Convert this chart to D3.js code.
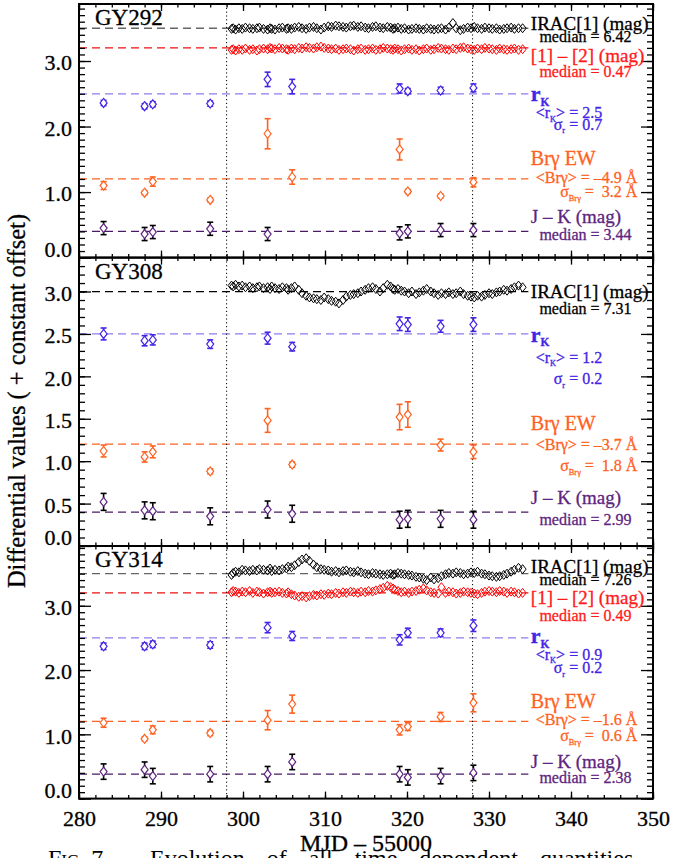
<!DOCTYPE html>
<html>
<head>
<meta charset="utf-8">
<script src="https://cdn.jsdelivr.net/npm/d3@7"></script>
<style>
body { margin: 0; background: #fff; }
svg { display: block; font-family: "Liberation Serif", "Times New Roman", serif; }
svg text { stroke-width: 0.3px; }
</style>
</head>
<body>
<div id="container"></div>
<script>
// IRAC epochs (MJD - 55000), shared by the three sources
const iracMjd = [
    298.6, 298.8, 299.1, 299.5, 299.9, 300.3, 300.8, 301.2, 301.7, 302.0,
    302.5, 303.0, 303.3, 303.5, 303.9, 304.4, 304.8, 305.3, 305.5, 305.9,
    306.3, 306.8, 307.2, 307.7, 308.1, 308.6, 309.0, 309.5, 309.9, 310.4,
    310.8, 311.3, 311.7, 312.2, 312.6, 313.1, 313.5, 314.0, 314.4, 314.9,
    315.3, 315.8, 316.2, 316.7, 317.1, 317.6, 318.0, 318.3, 318.5, 318.9,
    319.3, 319.7, 320.2, 320.6, 321.1, 321.5, 322.0, 322.4, 322.9, 323.3,
    323.8, 324.2, 324.7, 325.1, 325.6, 326.0, 326.5, 326.9, 327.4, 327.8,
    328.2, 328.6, 329.1, 329.5, 330.0, 330.4, 330.9, 331.3, 331.8, 332.2,
    332.7, 333.1, 333.6, 334.1
];

const gy292Irac = [
    3.49, 3.50, 3.48, 3.50, 3.49, 3.51, 3.50, 3.49, 3.50, 3.51,
    3.49, 3.48, 3.50, 3.49, 3.48, 3.50, 3.51, 3.49, 3.50, 3.49,
    3.51, 3.52, 3.50, 3.49, 3.51, 3.52, 3.50, 3.48, 3.51, 3.53,
    3.52, 3.54, 3.53, 3.52, 3.51, 3.53, 3.54, 3.52, 3.53, 3.51,
    3.50, 3.52, 3.53, 3.51, 3.50, 3.52, 3.51, 3.49, 3.50, 3.51,
    3.49, 3.50, 3.48, 3.49, 3.50, 3.49, 3.48, 3.50, 3.49, 3.48,
    3.49, 3.50, 3.48, 3.51, 3.58, 3.50, 3.47, 3.49, 3.51, 3.50,
    3.52, 3.50, 3.49, 3.51, 3.50, 3.49, 3.50, 3.48, 3.49, 3.50,
    3.51, 3.49, 3.50, 3.50
];
const gy292Color = [
    3.17, 3.18, 3.16, 3.18, 3.17, 3.19, 3.17, 3.18, 3.16, 3.18,
    3.19, 3.18, 3.20, 3.19, 3.18, 3.20, 3.19, 3.18, 3.17, 3.19,
    3.18, 3.20, 3.19, 3.21, 3.20, 3.19, 3.21, 3.22, 3.20, 3.19,
    3.18, 3.19, 3.17, 3.18, 3.19, 3.18, 3.16, 3.18, 3.19, 3.17,
    3.18, 3.19, 3.17, 3.18, 3.20, 3.19, 3.18, 3.17, 3.19, 3.18,
    3.16, 3.18, 3.19, 3.17, 3.18, 3.16, 3.18, 3.19, 3.17, 3.18,
    3.20, 3.19, 3.18, 3.17, 3.19, 3.18, 3.20, 3.21, 3.19, 3.18,
    3.17, 3.19, 3.18, 3.20, 3.19, 3.18, 3.17, 3.19, 3.18, 3.17,
    3.18, 3.19, 3.17, 3.18
];
const gy308Irac = [
    3.07, 3.06, 3.08, 3.06, 3.07, 3.05, 3.06, 3.04, 3.05, 3.06,
    3.04, 3.05, 3.03, 3.06, 3.04, 3.03, 3.05, 3.04, 3.02, 3.04,
    3.06, 3.02, 2.98, 2.95, 2.93, 2.92, 2.91, 2.90, 2.93, 2.91,
    2.89, 2.88, 2.86, 2.90, 2.94, 2.96, 2.97, 2.98, 3.00, 3.02,
    3.04, 3.05, 3.03, 3.00, 3.04, 3.08, 3.06, 3.03, 3.02, 3.03,
    3.01, 3.00, 2.98, 3.00, 2.97, 2.99, 3.01, 3.03, 3.00, 2.98,
    2.96, 2.98, 2.97, 2.99, 2.97, 2.98, 3.00, 2.97, 2.95, 2.94,
    2.93, 2.95, 2.94, 2.96, 2.98, 2.97, 2.99, 3.00, 3.02, 3.01,
    3.03, 3.05, 3.07, 3.05
];
const gy314Irac = [
    3.48, 3.51, 3.53, 3.52, 3.56, 3.55, 3.54, 3.56, 3.55, 3.57,
    3.56, 3.55, 3.58, 3.54, 3.56, 3.55, 3.57, 3.58, 3.61, 3.60,
    3.63, 3.68, 3.72, 3.74, 3.70, 3.64, 3.60, 3.57, 3.56, 3.55,
    3.53, 3.54, 3.52, 3.54, 3.55, 3.53, 3.52, 3.54, 3.52, 3.50,
    3.49, 3.51, 3.50, 3.49, 3.48, 3.49, 3.50, 3.48, 3.49, 3.51,
    3.50, 3.49, 3.48, 3.47, 3.45, 3.44, 3.42, 3.40, 3.44, 3.41,
    3.43, 3.46, 3.49, 3.51, 3.50, 3.52, 3.51, 3.49, 3.50, 3.52,
    3.51, 3.53, 3.50, 3.49, 3.47, 3.46, 3.45, 3.46, 3.48, 3.50,
    3.53, 3.56, 3.59, 3.57
];
const gy314Color = [
    3.21, 3.23, 3.22, 3.20, 3.22, 3.21, 3.23, 3.20, 3.22, 3.21,
    3.19, 3.21, 3.22, 3.20, 3.21, 3.22, 3.20, 3.19, 3.21, 3.18,
    3.16, 3.14, 3.15, 3.13, 3.15, 3.17, 3.16, 3.18, 3.17, 3.19,
    3.18, 3.20, 3.19, 3.21, 3.20, 3.22, 3.21, 3.20, 3.22, 3.21,
    3.23, 3.22, 3.24, 3.26, 3.28, 3.31, 3.29, 3.27, 3.25, 3.23,
    3.21, 3.22, 3.20, 3.22, 3.23, 3.25, 3.27, 3.24, 3.21, 3.20,
    3.19, 3.29, 3.20, 3.22, 3.21, 3.19, 3.20, 3.22, 3.21, 3.20,
    3.19, 3.18, 3.20, 3.22, 3.23, 3.22, 3.21, 3.23, 3.22, 3.20,
    3.22, 3.21, 3.19, 3.20
];

// spectroscopic / near-IR epochs
const specMjd = [283.0, 288.0, 289.0, 296.0, 303.0, 306.0, 319.1, 320.1, 324.1, 328.1];

const gy292Rk = [2.36, 2.31, 2.34, 2.35, 2.72, 2.61, 2.58, 2.54, 2.55, 2.59];
const gy292RkErr = [0.04, 0.04, 0.04, 0.04, 0.11, 0.11, 0.07, 0.04, 0.05, 0.06];
const gy292Brg = [1.10, 0.99, 1.16, 0.88, 1.89, 1.23, 1.65, 1.01, 0.94, 1.15];
const gy292BrgErr = [0.06, 0.03, 0.07, 0.03, 0.23, 0.11, 0.16, 0.03, 0.03, 0.07];
const gy292Jk = [0.45, 0.36, 0.39, 0.44, 0.36, null, 0.37, 0.40, 0.42, 0.42];
const gy292JkErr = [0.10, 0.10, 0.10, 0.10, 0.10, null, 0.10, 0.10, 0.10, 0.10];

const gy308Rk = [2.50, 2.42, 2.43, 2.38, 2.45, 2.35, 2.62, 2.61, 2.59, 2.61];
const gy308RkErr = [0.07, 0.06, 0.06, 0.05, 0.07, 0.05, 0.08, 0.08, 0.07, 0.08];
const gy308Brg = [1.12, 1.05, 1.11, 0.88, 1.48, 0.96, 1.52, 1.55, 1.19, 1.11];
const gy308BrgErr = [0.07, 0.06, 0.07, 0.03, 0.14, 0.03, 0.15, 0.15, 0.07, 0.08];
const gy308Jk = [0.52, 0.42, 0.41, 0.35, 0.43, 0.38, 0.31, 0.32, 0.32, 0.31];
const gy308JkErr = [0.10, 0.10, 0.10, 0.10, 0.10, 0.10, 0.10, 0.10, 0.10, 0.10];

const gy314Rk = [2.37, 2.37, 2.40, 2.39, 2.66, 2.53, 2.47, 2.58, 2.58, 2.69];
const gy314RkErr = [0.05, 0.05, 0.05, 0.05, 0.08, 0.07, 0.08, 0.07, 0.06, 0.09];
const gy314Brg = [1.18, 0.93, 1.07, 1.02, 1.22, 1.47, 1.07, 1.12, 1.27, 1.49];
const gy314BrgErr = [0.07, 0.03, 0.06, 0.04, 0.15, 0.14, 0.08, 0.06, 0.07, 0.14];
const gy314Jk = [0.42, 0.45, 0.35, 0.38, 0.38, 0.57, 0.38, 0.33, 0.35, 0.40];
const gy314JkErr = [0.12, 0.12, 0.12, 0.12, 0.12, 0.12, 0.12, 0.12, 0.12, 0.12];

// constant offsets (dashed reference lines): irac, [1]-[2], rK, Brg, J-K
const gy292Levels = [3.5, 3.2, 2.5, 1.2, 0.4];
const gy308Levels = [3.0, null, 2.5, 1.2, 0.4];
const gy314Levels = [3.5, 3.2, 2.5, 1.2, 0.38];

// numbers printed next to each panel
const sourceNames = ["GY292", "GY308", "GY314"];
const iracMedian = ["6.42", "7.31", "7.26"];
const colorMedian = ["0.47", null, "0.49"];
const rkMean = ["2.5", "1.2", "0.9"];
const rkSigma = ["0.7", "0.2", "0.2"];
const brgMean = ["\u20134.9", "\u20133.7", "\u20131.6"];
const brgSigma = ["3.2", "1.8", "0.6"];
const jkMedian = ["3.44", "2.99", "2.38"];

const epochLines = [298, 328];

const width = 673;
const height = 858;

const col = {
    irac: "#000", color: "#ff1a1a", rk: "#4424e6", rkLine: "#8b7df0",
    brg: "#ff6222", jk: "#5e2580", jkLine: "#4a1a66", gray: "#666"
};

// layout of the three stacked panels
const panels = [
    { top: 4, bottom: 257.6, yMax: 3.87, major: 1.0, irac: gy292Irac, color: gy292Color,
      rk: gy292Rk, rkErr: gy292RkErr, brg: gy292Brg, brgErr: gy292BrgErr, jk: gy292Jk, jkErr: gy292JkErr,
      levels: gy292Levels, iracDash: col.gray,
      ly: { irac: 3.47, iracMed: 3.29, color: 2.98, colorMed: 2.76, rk: 2.39, rkMean: 2.13, rkSig: 1.95,
            brg: 1.41, brgMean: 1.14, brgSig: 0.92, jk: 0.53, jkMed: 0.27 } },
    { top: 257.6, bottom: 546, yMax: 3.4, major: 0.5, irac: gy308Irac, color: null,
      rk: gy308Rk, rkErr: gy308RkErr, brg: gy308Brg, brgErr: gy308BrgErr, jk: gy308Jk, jkErr: gy308JkErr,
      levels: gy308Levels, iracDash: "#000",
      ly: { irac: 2.92, iracMed: 2.73, rk: 2.41, rkMean: 2.16, rkSig: 1.91,
            brg: 1.37, brgMean: 1.13, brgSig: 0.88, jk: 0.49, jkMed: 0.25 } },
    { top: 546, bottom: 798.6, yMax: 3.93, major: 1.0, irac: gy314Irac, color: gy314Color,
      rk: gy314Rk, rkErr: gy314RkErr, brg: gy314Brg, brgErr: gy314BrgErr, jk: gy314Jk, jkErr: gy314JkErr,
      levels: gy314Levels, iracDash: col.gray,
      ly: { irac: 3.51, iracMed: 3.33, color: 3.02, colorMed: 2.77, rk: 2.42, rkMean: 2.16, rkSig: 1.95,
            brg: 1.41, brgMean: 1.15, brgSig: 0.89, jk: 0.48, jkMed: 0.24 } }
];

const x = d3.scaleLinear().domain([280, 350]).range([79, 653]);

const svg = d3.select("#container").append("svg")
    .attr("width", width)
    .attr("height", height);

const diamond = "M0,-4.5L3.5,0L0,4.5L-3.5,0Z";

// text with optional subscripts: parts are strings or {sub: "..."}
function addLabel(g, xv, yPix, parts, o) {
    const t = g.append("text")
        .attr("x", x(xv))
        .attr("y", yPix)
        .attr("fill", o.color)
        .attr("stroke", o.color)
        .attr("font-size", o.size)
        .attr("text-anchor", o.anchor || "start")
        .attr("font-weight", o.bold ? "bold" : null)
        .style("white-space", "pre");
    let down = false;
    parts.forEach(p => {
        if (typeof p === "string") {
            t.append("tspan").attr("dy", down ? -o.size * 0.22 : null).text(p);
            down = false;
        } else {
            t.append("tspan")
                .attr("dy", o.size * 0.22)
                .attr("font-size", o.size * 0.52)
                .text(p.sub);
            down = true;
        }
    });
}

panels.forEach((p, i) => {
    const y = d3.scaleLinear().domain([0, p.yMax]).range([p.bottom, p.top]);
    const g = svg.append("g");
    const xEnd = 334.8;

    // dashed reference lines
    const dashDefs = [
        { v: p.levels[0], c: p.iracDash },
        { v: p.levels[1], c: "#ee1111" },
        { v: p.levels[2], c: col.rkLine },
        { v: p.levels[3], c: col.brg },
        { v: p.levels[4], c: col.jkLine }
    ].filter(d => d.v != null);
    g.selectAll("line.level")
        .data(dashDefs)
        .enter().append("line")
        .attr("class", "level")
        .attr("x1", x(280)).attr("x2", x(xEnd))
        .attr("y1", d => y(d.v)).attr("y2", d => y(d.v))
        .attr("stroke", d => d.c)
        .attr("stroke-width", 1.3)
        .attr("stroke-dasharray", "8,5");

    // dotted epoch markers
    g.selectAll("line.epoch")
        .data(epochLines)
        .enter().append("line")
        .attr("x1", d => x(d)).attr("x2", d => x(d))
        .attr("y1", p.top).attr("y2", p.bottom)
        .attr("stroke", "#000")
        .attr("stroke-width", 1)
        .attr("stroke-dasharray", "1.2,2.6");

    // IRAC light curves
    const drawSeries = (vals, color) => {
        g.append("g").selectAll("path")
            .data(iracMjd.map((t, k) => [t, vals[k]]))
            .enter().append("path")
            .attr("d", diamond)
            .attr("transform", d => `translate(${x(d[0])},${y(d[1])})`)
            .attr("fill", "none")
            .attr("stroke", color)
            .attr("stroke-width", 1);
    };
    drawSeries(p.irac, col.irac);
    if (p.color) drawSeries(p.color, "#ff0000");

    // sparse points with error bars
    const drawErr = (vals, errs, ptColor, barColor) => {
        const pts = specMjd.map((t, k) => ({ t, v: vals[k], e: errs[k] })).filter(d => d.v != null);
        const eg = g.append("g");
        const grp = eg.selectAll("g").data(pts).enter().append("g")
            .attr("transform", d => `translate(${x(d.t)},0)`);
        grp.append("line")
            .attr("y1", d => y(d.v - d.e)).attr("y2", d => y(d.v + d.e))
            .attr("stroke", barColor).attr("stroke-width", 1.6);
        grp.append("line")
            .attr("x1", -3).attr("x2", 3)
            .attr("y1", d => y(d.v + d.e)).attr("y2", d => y(d.v + d.e))
            .attr("stroke", barColor).attr("stroke-width", 1.6);
        grp.append("line")
            .attr("x1", -3).attr("x2", 3)
            .attr("y1", d => y(d.v - d.e)).attr("y2", d => y(d.v - d.e))
            .attr("stroke", barColor).attr("stroke-width", 1.6);
        grp.append("path")
            .attr("d", diamond)
            .attr("transform", d => `translate(0,${y(d.v)})`)
            .attr("fill", "#fff")
            .attr("stroke", ptColor)
            .attr("stroke-width", 1.2);
    };
    drawErr(p.rk, p.rkErr, col.rk, col.rk);
    drawErr(p.brg, p.brgErr, col.brg, col.brg);
    drawErr(p.jk, p.jkErr, col.jk, "#000");

    // axes: inward ticks on all four sides
    const fmt = d3.format(".1f");
    const yMajor = d3.range(0, p.yMax + 1e-6, p.major);
    const yMinor = d3.range(0, p.yMax + 1e-6, 0.1);
    const xMajor = d3.range(280, 351, 10);
    const xMinor = d3.range(280, 351, 2);

    const axes = g.append("g").attr("class", "axes");
    axes.append("g").attr("transform", `translate(0,${p.bottom})`)
        .call(d3.axisBottom(x).tickValues(xMinor).tickSize(-3.5).tickFormat(""));
    axes.append("g").attr("transform", `translate(0,${p.bottom})`)
        .call(d3.axisBottom(x).tickValues(xMajor).tickSize(-7).tickPadding(12)
            .tickFormat(i === 2 ? d3.format("d") : ""));
    axes.append("g").attr("transform", `translate(0,${p.top})`)
        .call(d3.axisTop(x).tickValues(xMinor).tickSize(-3.5).tickFormat(""));
    axes.append("g").attr("transform", `translate(0,${p.top})`)
        .call(d3.axisTop(x).tickValues(xMajor).tickSize(-7).tickFormat(""));
    axes.append("g").attr("transform", `translate(${x(280)},0)`)
        .call(d3.axisLeft(y).tickValues(yMinor).tickSize(-6).tickFormat(""));
    axes.append("g").attr("class", "ylab").attr("transform", `translate(${x(280)},0)`)
        .call(d3.axisLeft(y).tickValues(yMajor).tickSize(-12).tickPadding(7).tickFormat(fmt));
    axes.append("g").attr("transform", `translate(${x(350)},0)`)
        .call(d3.axisRight(y).tickValues(yMinor).tickSize(-6).tickFormat(""));
    axes.append("g").attr("transform", `translate(${x(350)},0)`)
        .call(d3.axisRight(y).tickValues(yMajor).tickSize(-12).tickFormat(""));

    axes.selectAll(".domain").remove();
    axes.selectAll(".tick line").attr("stroke", "#000").attr("stroke-width", 1.3);
    axes.selectAll(".tick text")
        .attr("fill", "#000")
        .attr("stroke", "#000")
        .attr("font-family", "Liberation Serif, serif")
        .attr("font-size", 22);
    axes.select(".ylab").selectAll(".tick text")
        .attr("dy", d => d === 0 ? "-0.05em" : "0.4em");

    g.append("rect")
        .attr("x", x(280)).attr("y", p.top)
        .attr("width", x(350) - x(280)).attr("height", p.bottom - p.top)
        .attr("fill", "none")
        .attr("stroke", "#000")
        .attr("stroke-width", 2);

    // source name
    g.append("text")
        .attr("x", 95).attr("y", p.top + 21)
        .attr("font-size", 23)
        .attr("fill", "#000")
        .attr("stroke", "#000")
        .text(sourceNames[i]);

    // right-hand annotations
    const ly = p.ly;
    addLabel(g, 335.1, y(ly.irac), ["IRAC[1] (mag)"], { color: "#000", size: 19 });
    addLabel(g, 336.15, y(ly.iracMed), ["median = " + iracMedian[i]], { color: "#000", size: 16 });
    if (colorMedian[i]) {
        addLabel(g, 335.1, y(ly.color), ["[1] \u2013 [2] (mag)"], { color: col.color, size: 19 });
        addLabel(g, 336.15, y(ly.colorMed), ["median = " + colorMedian[i]], { color: col.color, size: 16 });
    }
    addLabel(g, 335.1, y(ly.rk), ["r", { sub: "K" }], { color: col.rk, size: 22, bold: true });
    addLabel(g, 343.8, y(ly.rkMean), ["<r", { sub: "K" }, "> = " + rkMean[i]], { color: col.rk, size: 16, anchor: "end" });
    addLabel(g, 343.8, y(ly.rkSig), ["\u03c3", { sub: "r" }, " = " + rkSigma[i]], { color: col.rk, size: 16, anchor: "end" });
    addLabel(g, 335.1, y(ly.brg), ["Br\u03b3 EW"], { color: col.brg, size: 20 });
    addLabel(g, 348.1, y(ly.brgMean), ["<Br\u03b3> = " + brgMean[i] + " \u00c5"], { color: col.brg, size: 16, anchor: "end" });
    addLabel(g, 348.1, y(ly.brgSig), ["\u03c3", { sub: "Br\u03b3" }, " =  " + brgSigma[i] + " \u00c5"], { color: col.brg, size: 16, anchor: "end" });
    addLabel(g, 335.1, y(ly.jk), ["J \u2013 K (mag)"], { color: col.jk, size: 19 });
    addLabel(g, 336.15, y(ly.jkMed), ["median = " + jkMedian[i]], { color: col.jk, size: 16 });
});

// axis titles
svg.append("text")
    .attr("transform", "translate(25,401) rotate(-90)")
    .attr("text-anchor", "middle")
    .attr("font-size", 24.5)
    .attr("fill", "#000")
    .attr("stroke", "#000")
    .text("Differential values ( + constant offset)");

svg.append("text")
    .attr("x", 366).attr("y", 851)
    .attr("text-anchor", "middle")
    .attr("font-size", 24)
    .attr("fill", "#000")
    .attr("stroke", "#000")
    .text("MJD \u2013 55000");

// caption line, cut off by the page edge
const cap = svg.append("text")
    .attr("x", 48).attr("y", 866)
    .attr("font-size", 24)
    .attr("fill", "#000");
cap.append("tspan").text("F");
cap.append("tspan").attr("font-size", 17).text("IG");
cap.append("tspan").text(". 7.\u2014");
cap.append("tspan").attr("x", 150)
    .style("word-spacing", "16px")
    .text("Evolution of all time dependent quantities");
</script>
</body>
</html>
